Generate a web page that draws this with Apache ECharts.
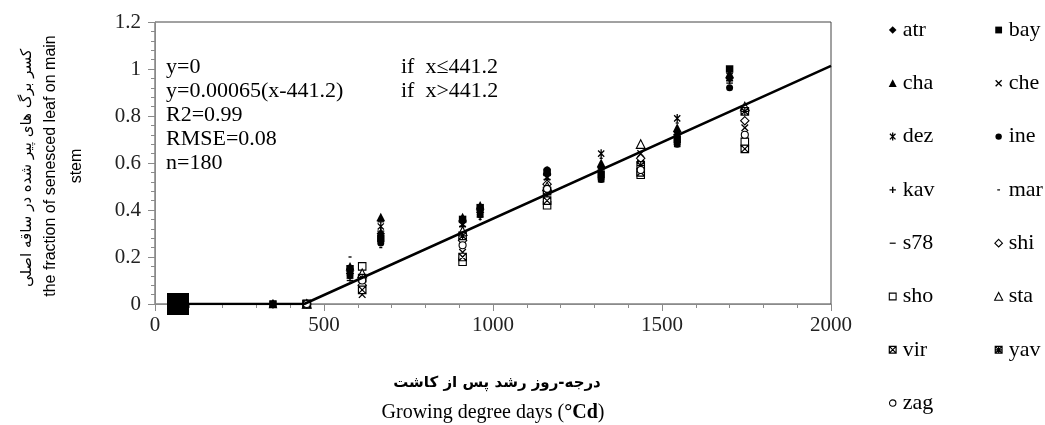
<!DOCTYPE html>
<html><head><meta charset="utf-8">
<script src="https://cdn.jsdelivr.net/npm/echarts@6/dist/echarts.min.js"></script>
<style>html,body{margin:0;padding:0;background:#fff}#c{width:1045px;height:425px}</style>
</head><body><div id="c"></div>
<script>
// ---- data ----
const filledNames = ['atr','bay','cha','dez','ine','kav','mar','s78'];
const openNames = ['che','shi','sho','sta','vir','yav','zag'];
const filledX = [349, 577, 668, 910, 962, 1160, 1320, 1437, 1545, 1700];
const openX = [449, 613, 910, 1160, 1437, 1745];
const atr = [0, 0.13, 0.30, 0.35, 0.39, 0.55, 0.58, 0.60, 0.72, 0.96];
const bay = [0, 0.15, 0.28, 0.36, 0.41, 0.56, 0.55, 0.58, 0.70, 1.00];
const cha = [0, 0.16, 0.37, 0.37, 0.42, 0.57, 0.60, 0.62, 0.75, 0.98];
const dez = [0, 0.14, 0.33, 0.34, 0.40, 0.54, 0.64, 0.59, 0.79, 0.97];
const ine = [0, 0.12, 0.26, 0.36, 0.38, 0.57, 0.53, 0.57, 0.68, 0.92];
const kav = [0, 0.11, 0.31, 0.33, 0.37, 0.53, 0.57, 0.61, 0.73, 0.95];
const mar = [0, 0.20, 0.24, 0.32, 0.36, 0.52, 0.62, 0.60, 0.77, 0.99];
const s78 = [0, 0.10, 0.35, 0.35, 0.40, 0.55, 0.52, 0.58, 0.67, 0.94];
const che = [0, 0.04, 0.22, 0.46, 0.64, 0.75];
const shi = [0, 0.08, 0.27, 0.51, 0.62, 0.78];
const sho = [0, 0.16, 0.18, 0.42, 0.55, 0.69];
const sta = [0, 0.13, 0.31, 0.50, 0.68, 0.84];
const vir = [0, 0.06, 0.20, 0.44, 0.56, 0.66];
const yav = [0, 0.11, 0.29, 0.48, 0.59, 0.82];
const zag = [0, 0.10, 0.25, 0.49, 0.57, 0.72];
const startPoint = [[68, 0]];
const fitLine = [[65, 0], [441.2, 0], [2000, 1.013]];
const xTicks = [0, 500, 1000, 1500, 2000];
const yTicks = [0, 0.2, 0.4, 0.6, 0.8, 1, 1.2];
const annotLeft = ['y=0', 'y=0.00065(x-441.2)', 'R2=0.99', 'RMSE=0.08', 'n=180'];
const annotRight = ['if  x\u2264441.2', 'if  x>441.2'];

const values = {atr,bay,cha,dez,ine,kav,mar,s78,che,shi,sho,sta,vir,yav,zag};

// ---- symbols (10x10 box) ----
const B = 'M0,0M10,10';
const diamond = B + 'M5,1.2L8.8,5L5,8.8L1.2,5Z';
const square = B + 'M1.6,1.6L8.4,1.6L8.4,8.4L1.6,8.4Z';
const tri = B + 'M5,1L9,8.8L1,8.8Z';
const circ = B + 'M5,1.8A3.2,3.2,0,1,1,5,8.2A3.2,3.2,0,1,1,5,1.8Z';
const sym = {
  atr: {p: diamond, fill: '#000', sw: 0},
  bay: {p: square, fill: '#000', sw: 0},
  cha: {p: tri, fill: '#000', sw: 0},
  che: {p: B + 'M2,2L8,8M8,2L2,8', fill: '#000', sw: 1.3},
  dez: {p: B + 'M2.2,2.2L7.8,7.8M7.8,2.2L2.2,7.8M5,1L5,9', fill: '#000', sw: 1.3},
  ine: {p: circ, fill: '#000', sw: 0},
  kav: {p: B + 'M5,1.8L5,8.2M1.8,5L8.2,5', fill: '#000', sw: 1.4},
  mar: {p: B + 'M3.6,4.4L6.4,4.4L6.4,5.6L3.6,5.6Z', fill: '#000', sw: 0},
  s78: {p: B + 'M2,4.4L8,4.4L8,5.6L2,5.6Z', fill: '#000', sw: 0},
  shi: {p: diamond, fill: '#fff', sw: 1.1},
  sho: {p: square, fill: '#fff', sw: 1.1},
  sta: {p: tri, fill: '#fff', sw: 1.1},
  vir: {p: square + 'M1.6,1.6L8.4,8.4M8.4,1.6L1.6,8.4', fill: '#fff', sw: 1.2},
  yav: {p: square + 'M1.6,1.6L8.4,8.4M8.4,1.6L1.6,8.4M5,1.6L5,8.4M1.6,5L8.4,5', fill: '#fff', sw: 1.2},
  zag: {p: circ, fill: '#fff', sw: 1.1}
};
function style(n){ const s = sym[n]; return {color: s.fill, borderColor: '#000', borderWidth: s.sw, opacity: 1}; }

const serif = 'Liberation Serif, DejaVu Serif, serif';
const series = [];
filledNames.forEach(n => series.push({
  name: n, type: 'scatter', symbol: 'path://' + sym[n].p, symbolSize: 11, z: 2,
  itemStyle: style(n), data: filledX.map((x, i) => [x, values[n][i]])
}));
openNames.forEach(n => series.push({
  name: n, type: 'scatter', symbol: 'path://' + sym[n].p, symbolSize: 11, z: 2,
  itemStyle: style(n), data: openX.map((x, i) => [x, values[n][i]])
}));
series.push({name: 'start', type: 'scatter', symbol: 'rect', symbolSize: 22, z: 4,
  itemStyle: {color: '#000', opacity: 1}, data: startPoint});
series.push({name: 'fit', type: 'line', showSymbol: false, symbol: 'none', z: 3,
  lineStyle: {color: '#000', width: 2.5}, data: fitLine, animation: false});

function legendData(names){
  return names.map(n => ({name: n, icon: 'path://' + sym[n].p, itemStyle: style(n)}));
}
const leftCol = ['atr','cha','dez','kav','s78','sho','vir','zag'];
const rightCol = ['bay','che','ine','mar','shi','sta','yav'];
const legendCommon = {orient: 'vertical', top: 13, itemWidth: 10, itemHeight: 10, itemGap: 29.3,
  selectedMode: false, textStyle: {fontFamily: serif, fontSize: 22, color: '#000', lineHeight: 24}};

const graphics = [];
annotLeft.forEach((t, i) => graphics.push({type: 'text', left: 166, top: 56 + i * 24,
  style: {text: t, font: '22px ' + serif, fill: '#000'}}));
annotRight.forEach((t, i) => graphics.push({type: 'text', left: 401, top: 56 + i * 24,
  style: {text: t, font: '22px ' + serif, fill: '#000'}}));
graphics.push({type: 'text', x: 27, y: 168, rotation: Math.PI / 2,
  style: {text: 'کسر برگ های پیر شده در ساقه اصلی', font: '15px DejaVu Sans', fill: '#000', align: 'center', verticalAlign: 'middle'}});
graphics.push({type: 'text', x: 51, y: 166, rotation: Math.PI / 2,
  style: {text: 'the fraction of senesced leaf on main', font: '16px Liberation Sans', fill: '#000', align: 'center', verticalAlign: 'middle'}});
graphics.push({type: 'text', x: 77, y: 166, rotation: Math.PI / 2,
  style: {text: 'stem', font: '16px Liberation Sans', fill: '#000', align: 'center', verticalAlign: 'middle'}});
graphics.push({type: 'text', x: 497, y: 383,
  style: {text: 'درجه-روز رشد پس از کاشت', font: 'bold 15px DejaVu Sans', fill: '#000', align: 'center', verticalAlign: 'middle'}});
graphics.push({type: 'text', x: 493, y: 413,
  style: {text: '{n|Growing degree days (}{b|°Cd}{n|)}', align: 'center', verticalAlign: 'middle', fill: '#000',
    rich: {n: {fontFamily: serif, fontSize: 20, fill: '#000'}, b: {fontFamily: serif, fontSize: 20, fontWeight: 'bold', fill: '#000'}}}});

const chart = echarts.init(document.getElementById('c'), null, {renderer: 'canvas'});
const axisGray = '#8a8a8a';
chart.setOption({
  animation: false,
  backgroundColor: '#fff',
  grid: {left: 155, right: 214, top: 22, bottom: 121, show: true, borderColor: '#444', borderWidth: 1},
  xAxis: {type: 'value', min: xTicks[0], max: xTicks[xTicks.length - 1], interval: xTicks[1] - xTicks[0],
    axisLine: {show: true, lineStyle: {color: axisGray, width: 1}},
    axisTick: {show: true, length: 7, lineStyle: {color: axisGray}},
    minorTick: {show: true, splitNumber: 5, length: 4, lineStyle: {color: axisGray}},
    splitLine: {show: false},
    axisLabel: {fontFamily: serif, fontSize: 21, color: '#222', margin: 11, formatter: v => String(v)}},
  yAxis: {type: 'value', min: yTicks[0], max: yTicks[yTicks.length - 1], interval: 0.2,
    axisLine: {show: true, lineStyle: {color: axisGray, width: 1}},
    axisTick: {show: true, length: 7, lineStyle: {color: axisGray}},
    minorTick: {show: true, splitNumber: 5, length: 4, lineStyle: {color: axisGray}},
    splitLine: {show: false},
    axisLabel: {fontFamily: serif, fontSize: 21, color: '#222', margin: 14, formatter: v => String(+v.toFixed(1))}},
  legend: [
    Object.assign({left: 882, data: legendData(leftCol)}, legendCommon),
    Object.assign({left: 988, data: legendData(rightCol)}, legendCommon)
  ],
  graphic: graphics,
  series: series
});
</script></body></html>
